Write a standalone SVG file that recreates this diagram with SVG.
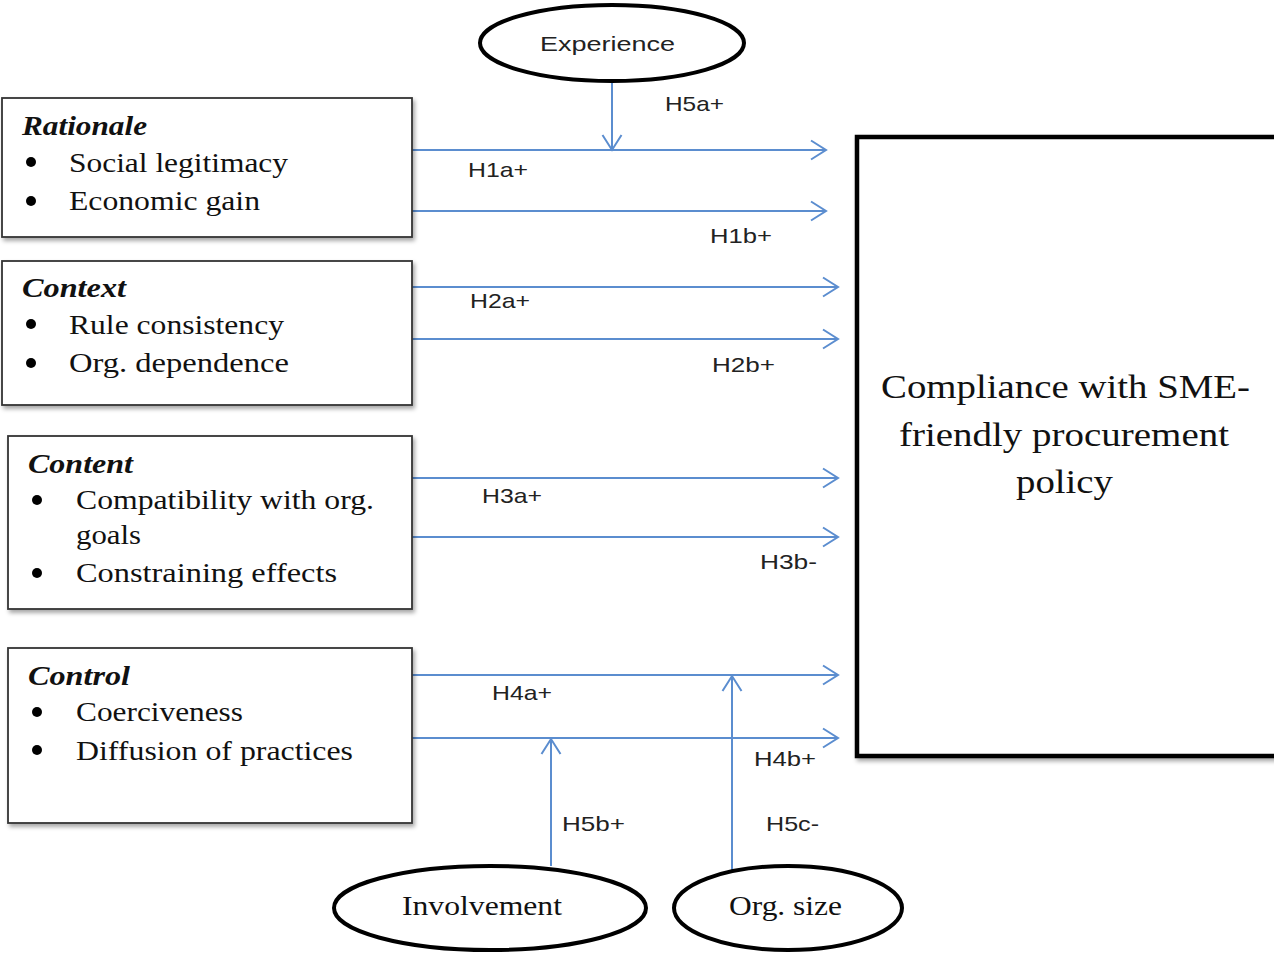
<svg xmlns="http://www.w3.org/2000/svg" width="1274" height="954" viewBox="0 0 1274 954">
<style>
.box{fill:#fff;stroke:#333;stroke-width:1.8}
.ell{fill:#fff;stroke:#000;stroke-width:4}
.main{fill:#fff;stroke:#000;stroke-width:4.5}
.ln{stroke:#5b8dcf;stroke-width:2;fill:none}
.ser{font-family:"Liberation Serif","Times New Roman",serif;fill:#111}
.hd{font-family:"Liberation Serif","Times New Roman",serif;font-weight:bold;font-style:italic;font-size:27px;fill:#111}
.it{font-size:27px}
.lb{font-family:"Liberation Sans",Arial,sans-serif;font-size:21px;fill:#222}
</style>
<defs>
<marker id="ah" viewBox="0 0 18 22" refX="16" refY="11" markerWidth="18" markerHeight="22" markerUnits="userSpaceOnUse" orient="auto">
<path d="M1,1.5 L16,11 L1,20.5" fill="none" stroke="#5b8dcf" stroke-width="2"/>
</marker>
<filter id="sh" x="-5%" y="-5%" width="110%" height="115%">
<feDropShadow dx="2" dy="3" stdDeviation="2" flood-color="#000" flood-opacity="0.35"/>
</filter>
</defs>

<g id="connectors">
<line class="ln" x1="412" y1="150" x2="826" y2="150" marker-end="url(#ah)"/>
<line class="ln" x1="412" y1="211" x2="826" y2="211" marker-end="url(#ah)"/>
<line class="ln" x1="412" y1="287" x2="838" y2="287" marker-end="url(#ah)"/>
<line class="ln" x1="412" y1="339" x2="838" y2="339" marker-end="url(#ah)"/>
<line class="ln" x1="412" y1="478" x2="838" y2="478" marker-end="url(#ah)"/>
<line class="ln" x1="412" y1="537" x2="838" y2="537" marker-end="url(#ah)"/>
<line class="ln" x1="412" y1="675" x2="838" y2="675" marker-end="url(#ah)"/>
<line class="ln" x1="412" y1="738" x2="838" y2="738" marker-end="url(#ah)"/>
<line class="ln" x1="612" y1="83" x2="612" y2="150" marker-end="url(#ah)"/>
<line class="ln" x1="551" y1="866" x2="551" y2="739" marker-end="url(#ah)"/>
<line class="ln" x1="732" y1="872" x2="732" y2="676" marker-end="url(#ah)"/>
<text class="lb" x="665" y="111" textLength="59" lengthAdjust="spacingAndGlyphs">H5a+</text>
<text class="lb" x="468" y="177" textLength="60" lengthAdjust="spacingAndGlyphs">H1a+</text>
<text class="lb" x="710" y="243" textLength="62" lengthAdjust="spacingAndGlyphs">H1b+</text>
<text class="lb" x="470" y="308" textLength="60" lengthAdjust="spacingAndGlyphs">H2a+</text>
<text class="lb" x="712" y="372" textLength="63" lengthAdjust="spacingAndGlyphs">H2b+</text>
<text class="lb" x="482" y="503" textLength="60" lengthAdjust="spacingAndGlyphs">H3a+</text>
<text class="lb" x="760" y="569" textLength="57" lengthAdjust="spacingAndGlyphs">H3b-</text>
<text class="lb" x="492" y="700" textLength="60" lengthAdjust="spacingAndGlyphs">H4a+</text>
<text class="lb" x="754" y="766" textLength="62" lengthAdjust="spacingAndGlyphs">H4b+</text>
<text class="lb" x="562" y="831" textLength="63" lengthAdjust="spacingAndGlyphs">H5b+</text>
<text class="lb" x="766" y="831" textLength="53" lengthAdjust="spacingAndGlyphs">H5c-</text>
</g>

<g id="rationale">
<rect class="box" x="2" y="98" width="410" height="139" filter="url(#sh)"/>
<text class="hd" x="22" y="135" textLength="125" lengthAdjust="spacingAndGlyphs">Rationale</text>
<circle cx="31" cy="162" r="5" fill="#000"/>
<circle cx="31" cy="201" r="5" fill="#000"/>
<text class="ser it" x="69" y="172" textLength="219" lengthAdjust="spacingAndGlyphs">Social legitimacy</text>
<text class="ser it" x="69" y="210" textLength="191" lengthAdjust="spacingAndGlyphs">Economic gain</text>
</g>

<g id="context">
<rect class="box" x="2" y="261" width="410" height="144" filter="url(#sh)"/>
<text class="hd" x="22" y="297" textLength="104" lengthAdjust="spacingAndGlyphs">Context</text>
<circle cx="31" cy="324" r="5" fill="#000"/>
<circle cx="31" cy="363" r="5" fill="#000"/>
<text class="ser it" x="69" y="334" textLength="215" lengthAdjust="spacingAndGlyphs">Rule consistency</text>
<text class="ser it" x="69" y="372" textLength="220" lengthAdjust="spacingAndGlyphs">Org. dependence</text>
</g>

<g id="content">
<rect class="box" x="8" y="436" width="404" height="173" filter="url(#sh)"/>
<text class="hd" x="28" y="473" textLength="105" lengthAdjust="spacingAndGlyphs">Content</text>
<circle cx="37" cy="500" r="5" fill="#000"/>
<circle cx="37" cy="573" r="5" fill="#000"/>
<text class="ser it" x="76" y="509" textLength="298" lengthAdjust="spacingAndGlyphs">Compatibility with org.</text>
<text class="ser it" x="76" y="544" textLength="65" lengthAdjust="spacingAndGlyphs">goals</text>
<text class="ser it" x="76" y="582" textLength="261" lengthAdjust="spacingAndGlyphs">Constraining effects</text>
</g>

<g id="control">
<rect class="box" x="8" y="648" width="404" height="175" filter="url(#sh)"/>
<text class="hd" x="28" y="685" textLength="102" lengthAdjust="spacingAndGlyphs">Control</text>
<circle cx="37" cy="712" r="5" fill="#000"/>
<circle cx="37" cy="750" r="5" fill="#000"/>
<text class="ser it" x="76" y="721" textLength="167" lengthAdjust="spacingAndGlyphs">Coerciveness</text>
<text class="ser it" x="76" y="760" textLength="277" lengthAdjust="spacingAndGlyphs">Diffusion of practices</text>
</g>

<g id="compliance">
<rect class="main" x="857" y="137" width="420" height="619" filter="url(#sh)"/>
<text class="ser" font-size="33" x="881" y="398" textLength="369" lengthAdjust="spacingAndGlyphs">Compliance with SME-</text>
<text class="ser" font-size="33" x="899" y="446" textLength="330" lengthAdjust="spacingAndGlyphs">friendly procurement</text>
<text class="ser" font-size="33" x="1016" y="493" textLength="97" lengthAdjust="spacingAndGlyphs">policy</text>
</g>

<g id="experience">
<ellipse class="ell" cx="612" cy="43" rx="132" ry="38"/>
<text class="lb" font-size="23" x="540" y="51" textLength="135" lengthAdjust="spacingAndGlyphs">Experience</text>
</g>

<g id="involvement">
<ellipse class="ell" cx="490" cy="908" rx="156" ry="42"/>
<text class="ser" font-size="28" x="402" y="915" textLength="160" lengthAdjust="spacingAndGlyphs">Involvement</text>
</g>

<g id="orgsize">
<ellipse class="ell" cx="788" cy="908" rx="114" ry="42"/>
<text class="ser" font-size="28" x="729" y="915" textLength="113" lengthAdjust="spacingAndGlyphs">Org. size</text>
</g>
</svg>
